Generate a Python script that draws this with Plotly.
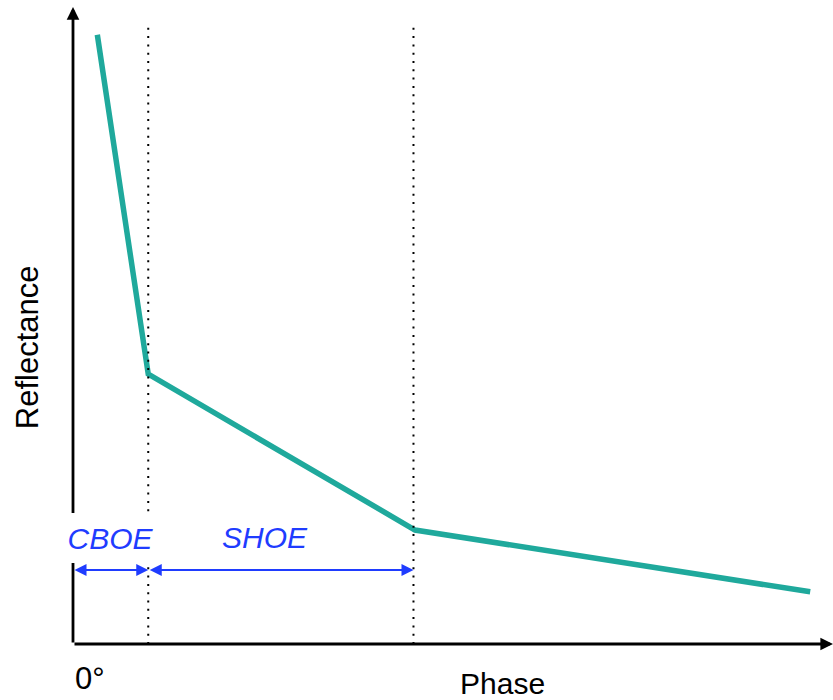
import plotly.graph_objects as go

# Data (arbitrary units: phase 0-100, reflectance 0-100)
phase = [3.2, 9.9, 45.0, 97.0]
reflectance = [94.6, 41.9, 17.7, 8.1]
cboe_limit = 9.9
shoe_limit = 44.8
region_labels = ["CBOE", "SHOE"]

TEAL = "#1fa99c"
BLUE = "#1f3cff"
FONT = "Liberation Sans, Arial, Helvetica, sans-serif"

fig = go.Figure()
fig.add_trace(go.Scatter(x=phase, y=reflectance, mode="lines",
                         line=dict(color=TEAL, width=5.5), hoverinfo="skip"))

shapes = []
for xv in [cboe_limit, shoe_limit]:
    shapes.append(dict(type="line", xref="x", yref="y", x0=xv, x1=xv, y0=0, y1=96.6,
                       line=dict(color="black", width=2, dash="2px,6.3px")))

annotations = []
# y axis arrow
annotations.append(dict(x=0, y=98.9, ax=0, ay=0, xref="x", yref="y", axref="x", ayref="y",
                        text="", showarrow=True, arrowhead=2, arrowsize=0.9, arrowwidth=2.8,
                        arrowcolor="black", standoff=0, startstandoff=0))
# x axis arrow
annotations.append(dict(x=100, y=0, ax=0, ay=0, xref="x", yref="y", axref="x", ayref="y",
                        text="", showarrow=True, arrowhead=2, arrowsize=0.9, arrowwidth=2.8,
                        arrowcolor="black", standoff=0, startstandoff=0))
# region arrows
arrow_y = 11.5
for x0, x1 in [(0, cboe_limit), (cboe_limit, shoe_limit)]:
    annotations.append(dict(x=x1, y=arrow_y, ax=x0, ay=arrow_y, xref="x", yref="y",
                            axref="x", ayref="y", text="", showarrow=True,
                            arrowhead=2, startarrowhead=2, arrowside="end+start",
                            arrowsize=1.2, startarrowsize=1.2, arrowwidth=2,
                            arrowcolor=BLUE, standoff=0, startstandoff=0))
# labels
annotations.append(dict(x=25.3, y=16.5, xref="x", yref="y",
                        text="<i>%s</i>" % region_labels[1], showarrow=False,
                        font=dict(family=FONT, size=30, color=BLUE)))
annotations.append(dict(x=0, y=-0.0528, xref="paper", yref="paper", xanchor="left", yanchor="middle",
                        text="0°", showarrow=False, font=dict(family=FONT, size=31, color="black")))
annotations.append(dict(x=0.5645, y=-0.0606, xref="paper", yref="paper", xanchor="center",
                        yanchor="middle", text="Phase", showarrow=False,
                        font=dict(family=FONT, size=30, color="black")))
annotations.append(dict(x=-0.0605, y=0.461, xref="paper", yref="paper", xanchor="center",
                        yanchor="middle", text="Reflectance",
                        textangle=-90, showarrow=False,
                        font=dict(family=FONT, size=31, color="black")))
annotations.append(dict(x=cboe_limit / 2, y=16.5, xref="x", yref="y",
                        text="<i>%s</i>" % region_labels[0], showarrow=False,
                        bgcolor="white", width=95, height=50, borderpad=0, borderwidth=0,
                        font=dict(family=FONT, size=30, color=BLUE)))

fig.update_layout(
    width=833, height=700, autosize=False,
    margin=dict(l=73, r=0, t=0, b=56),
    paper_bgcolor="white", plot_bgcolor="white",
    showlegend=False,
    xaxis=dict(range=[0, 100], visible=False),
    yaxis=dict(range=[0, 100], visible=False),
    shapes=shapes, annotations=annotations,
)
fig.write_html("out.html", config={"displayModeBar": False},
               post_script="document.body.style.margin='0px';")
